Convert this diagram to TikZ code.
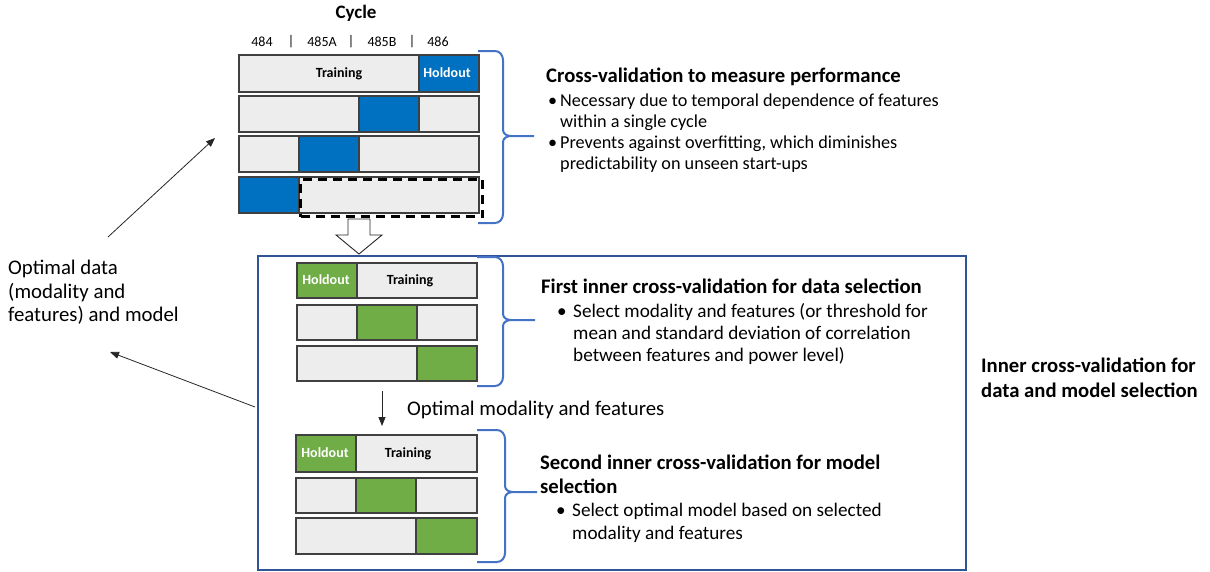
\documentclass[tikz,border=0pt]{standalone}
\usepackage{fontspec}
\setmainfont{Carlito}
\usetikzlibrary{arrows.meta}
\definecolor{hblue}{HTML}{0070C0}
\definecolor{hgreen}{HTML}{70AD47}
\definecolor{barfill}{HTML}{EDEDED}
\definecolor{barline}{HTML}{404040}
\definecolor{bracecol}{HTML}{4472C4}
\definecolor{boxline}{HTML}{2F5597}
\newcommand\cvbrace[6]{% x0, xv, xt, ytop, ymid, ybot
  \draw[bracestyle] (#1,#4) -- (#2-8,#4) to[out=0,in=90] (#2,#4+9) -- (#2,#5-6)
    to[out=-90,in=180] (#2+8,#5) -- (#3,#5)
    (#3,#5) -- (#2+8,#5) to[out=180,in=90] (#2,#5+6) -- (#2,#6-9)
    to[out=-90,in=0] (#2-8,#6) -- (#1,#6);}
\begin{document}
\begin{tikzpicture}[x=1pt,y=-1pt,
  bar/.style={draw=barline, fill=barfill, line width=1.2pt, inner sep=0pt, outer sep=0pt, anchor=north west},
  bseg/.style={bar, fill=hblue},
  gseg/.style={bar, fill=hgreen},
  bracestyle/.style={draw=bracecol, line width=2pt},
  arr/.style={-{Triangle[length=9pt,width=7pt]}, line width=0.8pt, draw=black!85},
  body/.style={inner sep=0pt, anchor=base west, font=\fontsize{18.2}{21}\selectfont},
  body2/.style={body, font=\fontsize{19.2}{22}\selectfont},
  big/.style={body, font=\fontsize{20.8}{24}\selectfont},
  head/.style={inner sep=0pt, anchor=base west, font=\fontsize{20.7}{23}\selectfont\bfseries},
  small/.style={inner sep=0pt, font=\fontsize{14}{16}\selectfont},
  smallb/.style={inner sep=0pt, font=\fontsize{14}{16}\selectfont\bfseries},
]
\useasboundingbox (0,0) rectangle (1210,571);

% ---- outer cross-validation
\node[inner sep=0pt, font=\fontsize{19}{21}\selectfont\bfseries] (cycle) at (356,13) {Cycle};
\node[small] (c1) at (262,42) {484};
\node[small] (s1) at (291,42) {|};
\node[small] (c2) at (322,42) {485A};
\node[small] (s2) at (351,42) {|};
\node[small] (c3) at (382,42) {485B};
\node[small] (s3) at (412,42) {|};
\node[small] (c4) at (438,42) {486};

\node[bar, minimum width=240pt, minimum height=37pt] (t1) at (239,55) {};
\node[bseg, minimum width=60pt, minimum height=37pt] (t1h) at (419,55) {};
\node[smallb] (t1tr) at (339,74) {Training};
\node[smallb, text=white] (t1ho) at (447,73) {Holdout};

\node[bar, minimum width=240pt, minimum height=36pt] (t2) at (239,96) {};
\node[bseg, minimum width=60pt, minimum height=36pt] (t2h) at (359,96) {};

\node[bar, minimum width=240pt, minimum height=36pt] (t3) at (239,136) {};
\node[bseg, minimum width=60pt, minimum height=36pt] (t3h) at (299,136) {};

\node[bar, minimum width=240pt, minimum height=36pt] (t4) at (239,177) {};
\node[bseg, minimum width=60pt, minimum height=36pt] (t4h) at (239,177) {};
\node[draw=black, line width=3pt, dash pattern=on 9pt off 6pt, inner sep=0pt, anchor=north west,
  minimum width=182pt, minimum height=37pt] (t4d) at (299,178) {};

\cvbrace{478}{503}{534}{51}{136}{223}

\node[head] (h1) at (546,82) {Cross-validation to measure performance};
\node[body] (b1a) at (548,106) {•};
\node[body] (b1) at (560,106) {Necessary due to temporal dependence of features};
\node[body] (b1x) at (560,127) {within a single cycle};
\node[body] (b2a) at (548,148) {•};
\node[body] (b2) at (560,148) {Prevents against overfitting, which diminishes};
\node[body] (b2x) at (560,169) {predictability on unseen start-ups};

% ---- hollow arrow
\draw[fill=white, draw=black!85, line width=0.9pt]
  (348,219) -- (348,235) -- (336,235) -- (359,254) -- (382,235) -- (370,235) -- (370,219) -- cycle;

% ---- inner box
\node[draw=boxline, line width=2pt, inner sep=0pt, anchor=north west,
  minimum width=708pt, minimum height=314pt] (inner) at (257,255) {};

\node[bar, minimum width=180pt, minimum height=35pt] (f1) at (297,263) {};
\node[gseg, minimum width=60pt, minimum height=35pt] (f1h) at (297,263) {};
\node[smallb, text=white] (f1ho) at (326,280) {Holdout};
\node[smallb] (f1tr) at (410,281) {Training};
\node[bar, minimum width=180pt, minimum height=35pt] (f2) at (297,305) {};
\node[gseg, minimum width=60pt, minimum height=35pt] (f2h) at (357,305) {};
\node[bar, minimum width=180pt, minimum height=35pt] (f3) at (297,346) {};
\node[gseg, minimum width=60pt, minimum height=35pt] (f3h) at (417,346) {};

\cvbrace{477}{503}{535}{257}{320}{386}

\node[head] (h2) at (541,293) {First inner cross-validation for data selection};
\node[body2] (b3a) at (557,317) {•};
\node[body2] (b3) at (573,317) {Select modality and features (or threshold for};
\node[body2] (b3x) at (573,339) {mean and standard deviation of correlation};
\node[body2] (b3y) at (573,361) {between features and power level)};

\coordinate (mS) at (382,391);
\coordinate (mE) at (382,426);
\draw[arr] (mS) -- (mE);
\node[big] (mlab) at (407,415) {Optimal modality and features};

\node[bar, minimum width=181pt, minimum height=37pt] (g1) at (296,435) {};
\node[gseg, minimum width=60pt, minimum height=37pt] (g1h) at (296,435) {};
\node[smallb, text=white] (g1ho) at (325,453) {Holdout};
\node[smallb] (g1tr) at (408,454) {Training};
\node[bar, minimum width=181pt, minimum height=35pt] (g2) at (296,478) {};
\node[gseg, minimum width=60pt, minimum height=35pt] (g2h) at (356,478) {};
\node[bar, minimum width=181pt, minimum height=36pt] (g3) at (296,518) {};
\node[gseg, minimum width=61pt, minimum height=36pt] (g3h) at (416,518) {};

\cvbrace{477}{505}{537}{430}{492}{562}

\node[head] (h3) at (540,469) {Second inner cross-validation for model};
\node[head] (h3x) at (540,493) {selection};
\node[body2] (b4a) at (556,516) {•};
\node[body2] (b4) at (572,516) {Select optimal model based on selected};
\node[body2] (b4x) at (572,539) {modality and features};

\node[head] (r1) at (981,372) {Inner cross-validation for};
\node[head] (r2) at (981,397) {data and model selection};

% ---- left label and arrows
\node[big] (l1) at (8,274) {Optimal data};
\node[big] (l2) at (8,298) {(modality and};
\node[big] (l3) at (8,321) {features) and model};

\coordinate (upS) at (108,237);
\coordinate (upE) at (215,138);
\coordinate (loS) at (255,407);
\coordinate (loE) at (110,352);
\draw[arr] (upS) -- (upE);
\draw[arr] (loS) -- (loE);
\end{tikzpicture}
\end{document}
